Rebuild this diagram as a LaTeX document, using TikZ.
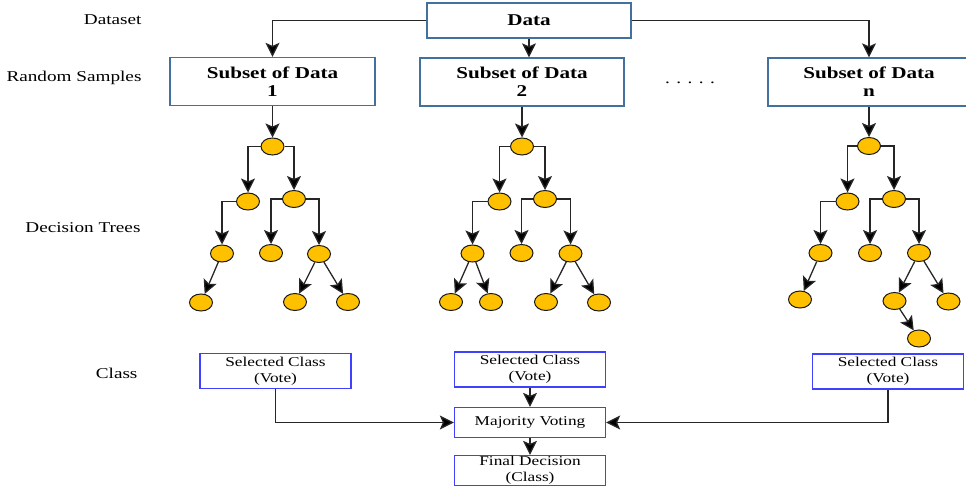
\documentclass[tikz,border=0pt]{standalone}
\usepackage{fontspec}
\setmainfont[FakeStretch=1.28]{Liberation Serif}
\usetikzlibrary{arrows.meta, shapes.geometric}
\definecolor{topblue}{RGB}{65,113,156}
\definecolor{voteblue}{RGB}{64,64,255}
\definecolor{leafgold}{RGB}{255,192,0}

\begin{document}
\begin{tikzpicture}[x=1pt, y=-1pt,
    arrow/.style={-{Stealth[length=14pt, width=14pt, inset=3pt, fill=black]}, line width=1.3pt, draw=black!85},
    subset/.style={draw=topblue, line width=1.3pt, minimum height=48pt, align=center, font=\fontsize{16.5}{18}\selectfont\bfseries},
    vote/.style={draw=voteblue, line width=1.3pt, minimum width=151pt, minimum height=35pt, inner sep=1.5pt, align=center, font=\fontsize{13.5}{16}\selectfont},
    leaf/.style={ellipse, draw=black!90, fill=leafgold, line width=1pt, minimum width=23pt, minimum height=17pt, inner sep=0pt},
    rowlabel/.style={anchor=east, font=\fontsize{15}{17}\selectfont}]
                \useasboundingbox (0,0) rectangle (966,489);
                \node[rowlabel] (lbldata) at (145,20) {Dataset};
                \node[rowlabel] (lblrand) at (145,78) {Random Samples};
                \node[rowlabel] (lbltree) at (144,228) {Decision Trees};
                \node[rowlabel] (lblclass) at (141,373) {Class};
                \node[subset, minimum width=204pt, minimum height=35pt] (data) at (529,20.5) {Data};
                \node[subset, minimum width=205pt] (sub1) at (272.5,81.5) {Subset of Data\\1};
                \node[subset, minimum width=204pt] (sub2) at (522,82) {Subset of Data\\2};
                \node[subset, minimum width=202pt] (subn) at (869,82) {Subset of Data\\n};
                \node[anchor=base, font=\fontsize{15}{17}\selectfont] (dots) at (690,84) {. . . . .};
                \draw[arrow] (data.west) -| (sub1.north);
                \draw[arrow] (data.east) -| (subn.north);
                \draw[arrow] (data.south) -- (data.south |- sub2.north);
                \foreach \n/\x/\y in {a1/272.5/146.5, a2/248/201.5, a3/294/199, a4/222/253.5, a5/271/253, a6/319/254,
                                      a7/201/302.5, a8/295/302, a9/348/302,
                                      b1/522/146.5, b2/499.5/201.5, b3/545/199, b4/472.5/253.5, b5/521.5/253, b6/570.5/253.5,
                                      b7/451/302, b8/491/302, b9/546/302, b10/599/302.5,
                                      c1/869/146, c2/847.5/201.5, c3/894/199, c4/820.5/253, c5/870/253, c6/919/253,
                                      c7/800/299.5, c8/894.5/301, c9/948.5/301.5, c10/919/338.5}
                    \node[leaf] (\n) at (\x,\y) {};
                \draw[arrow] (sub1.south) -- (a1.north);
                \draw[arrow] (sub2.south) -- (b1.north);
                \draw[arrow] (subn.south) -- (c1.north);
                \foreach \p/\c in {a1/a2, a2/a4, a3/a5, b1/b2, b2/b4, b3/b5, c1/c2, c2/c4, c3/c5}
                    \draw[arrow] (\p.west) -| (\c.north);
                \foreach \p/\c in {a1/a3, a3/a6, b1/b3, b3/b6, c1/c3, c3/c6}
                    \draw[arrow] (\p.east) -| (\c.north);
                \foreach \p/\c in {a4/a7, a6/a8, a6/a9, b4/b7, b4/b8, b6/b9, b6/b10, c4/c7, c6/c8, c6/c9, c8/c10}
                    \draw[arrow] (\p) -- (\c);
                \node[vote] (vote1) at (275.5,371) {Selected Class\\(Vote)};
                \node[vote] (vote2) at (530,369.5) {Selected Class\\(Vote)};
                \node[vote] (voten) at (888,371.5) {Selected Class\\(Vote)};
                \node[vote, minimum height=30pt] (major) at (530,422.5) {Majority Voting};
                \node[vote, minimum height=30pt, inner sep=0pt] (final) at (530,470.5) {Final Decision\\(Class)};
                \draw[arrow] (vote1.south) |- (major.west);
                \draw[arrow] (vote2) -- (major);
                \draw[arrow] (major) -- (final);
                \draw[arrow] (voten.south) |- (major.east);
            \end{tikzpicture}
\end{document}
